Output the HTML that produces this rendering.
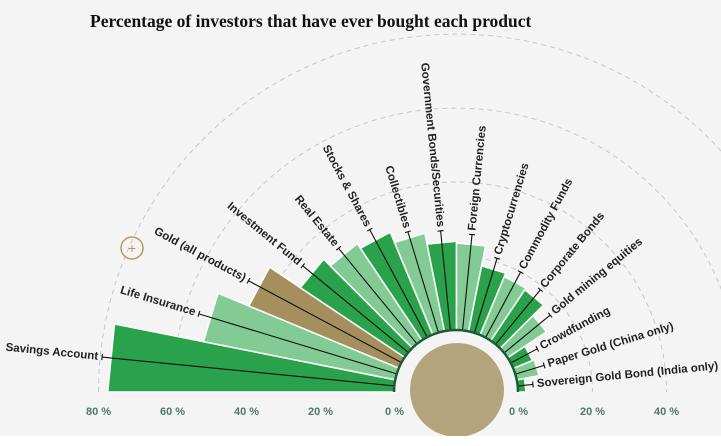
<!DOCTYPE html>
<html><head><meta charset="utf-8"><style>
html,body{margin:0;padding:0;background:#fff}
svg{display:block}
text{font-family:"Liberation Sans",sans-serif}
</style></head><body>
<svg id="chart" width="721" height="446" viewBox="0 0 721 446">
<rect x="0" y="0" width="721" height="436" fill="#f4f4f4"/>
<text x="90" y="27" font-weight="bold" font-size="17.5" fill="#111" style="font-family:'Liberation Serif',serif">Percentage of investors that have ever bought each product</text>
<g id="grid"></g><g id="bars"></g><g id="whiskers"></g><g id="labels"></g><g id="axis"></g>
<path d="M394 392 A62 62 0 0 1 518 392" fill="none" stroke="#1c5a3a" stroke-width="2.5"/>
<circle cx="457" cy="390" r="47" fill="#b4a47c"/>
<rect x="0" y="436" width="721" height="10" fill="#fff"/>
<g><circle cx="132" cy="248" r="11" fill="none" stroke="#b79a62" stroke-width="1.5"/><text x="132" y="253" text-anchor="middle" font-size="14" fill="#b79a62">+</text></g>
</svg>
<script>
const categories=["Savings Account","Life Insurance","Gold (all products)","Investment Fund","Real Estate","Stocks & Shares","Collectibles","Government Bonds/Securities","Foreign Currencies","Cryptocurrencies","Commodity Funds","Corporate Bonds","Gold mining equities","Crowdfunding","Paper Gold (China only)","Sovereign Gold Bond (India only)"];
const values=[77.5,53,44,34,31.5,30,27,24,23.5,18,17,16.5,12.5,5.5,6,2];
const upper=[79.5,56,47,37,33.5,33,28.5,27,26,21,20,19,16,8,8,4];
const leftTicks=["80 %","60 %","40 %","20 %","0 %"];
const leftTickVals=[80,60,40,20,0];
const rightTicks=["0 %","20 %","40 %"];
const rightTickVals=[0,20,40];
const gridVals=[20,40,60,80];

const NS="http://www.w3.org/2000/svg";
const cx=456.5,cy=392,r0=62,k=3.7;
const rad=v=>r0+v*k;
const n=categories.length, step=180/n;
const pt=(r,deg)=>[cx+r*Math.cos(deg*Math.PI/180),cy-r*Math.sin(deg*Math.PI/180)];
function mk(tag,attrs,parent){const e=document.createElementNS(NS,tag);for(const a in attrs)e.setAttribute(a,attrs[a]);parent.appendChild(e);return e;}
const G=id=>document.getElementById(id);

gridVals.forEach(v=>{
  const r=rad(v);
  const e=mk('path',{d:`M${cx-r} ${cy} A${r} ${r} 0 0 1 ${cx+r} ${cy}`,fill:'none',stroke:'#c8c8c8','stroke-width':1,'stroke-dasharray':'5 4'},G('grid'));
  
  
});

const colors=i=> i===2?'#a58f5f':(i<2?(i%2===0?'#2aa24c':'#82cb94'):(i%2===1?'#2aa24c':'#82cb94'));
values.forEach((v,i)=>{
  const a1=180-i*step,a2=180-(i+1)*step,r=rad(v);
  const p1=pt(r0,a1),p2=pt(r,a1),p3=pt(r,a2),p4=pt(r0,a2);
  const e=mk('path',{d:`M${p1} L${p2} L${p3} L${p4} Z`,fill:colors(i),stroke:'#fff','stroke-width':1.5},G('bars'));
  
  
});

upper.forEach((u,i)=>{
  const a=180-(i+0.5)*step,r=rad(u);
  const p0=pt(r0,a),p1=pt(r,a);
  const g=mk('g',{},G('whiskers'));
  
  
  mk('line',{x1:p0[0],y1:p0[1],x2:p1[0],y2:p1[1],stroke:'#111','stroke-width':1.1},g);
  const t=a*Math.PI/180,dx=Math.sin(t)*3,dy=Math.cos(t)*3;
  mk('line',{x1:p1[0]-dx,y1:p1[1]-dy,x2:p1[0]+dx,y2:p1[1]+dy,stroke:'#111','stroke-width':1.1},g);
  const lp=pt(r+4,a);
  const left=a>90;
  const rot=left?180-a:-a;
  const tx=mk('text',{x:lp[0],y:lp[1],'text-anchor':left?'end':'start','dominant-baseline':'middle','font-size':11.5,'font-weight':'bold',fill:'#222',transform:`rotate(${rot} ${lp[0]} ${lp[1]})`},G('labels'));
  tx.textContent=categories[i];
  
  
});

leftTickVals.forEach((v,i)=>{
  const e=mk('text',{x:cx-rad(v),y:415,'text-anchor':'middle','font-size':11,'font-weight':'bold',fill:'#4d7a66'},G('axis'));
  e.textContent=leftTicks[i];
  
  
});
rightTickVals.forEach((v,i)=>{
  const e=mk('text',{x:cx+rad(v),y:415,'text-anchor':'middle','font-size':11,'font-weight':'bold',fill:'#4d7a66'},G('axis'));
  e.textContent=rightTicks[i];
  
  
});
</script>
</body></html>
